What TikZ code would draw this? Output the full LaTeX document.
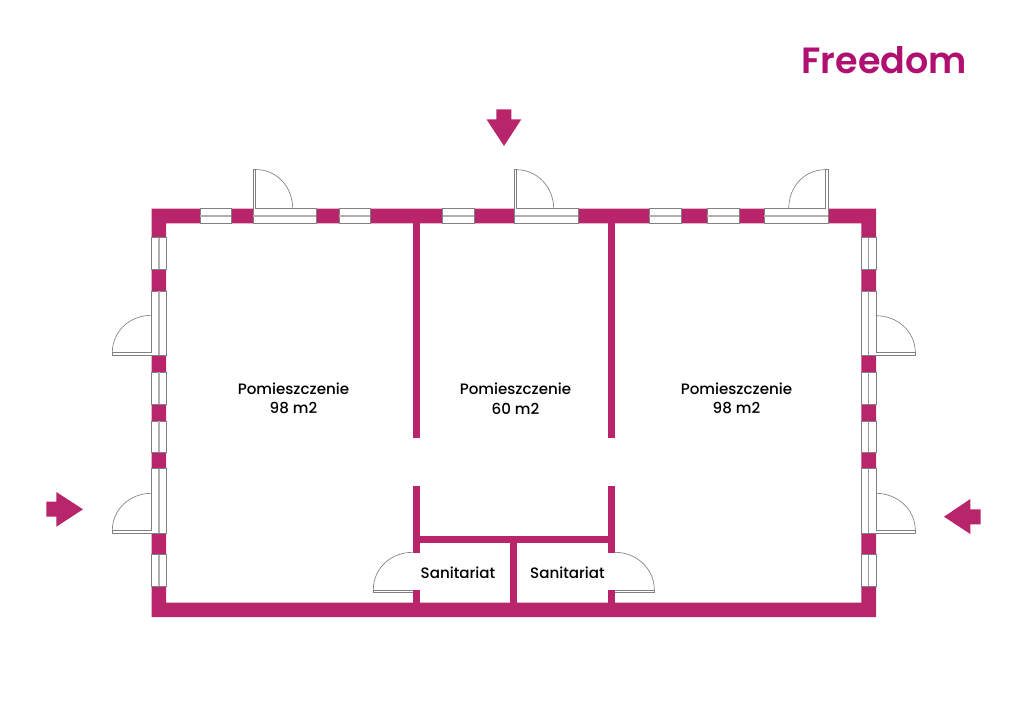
\documentclass[tikz,border=0pt]{standalone}
\usepackage{fontspec}
\newfontfamily\pop{Poppins Medium}
\newfontfamily\popl{Poppins SemiBold}
\definecolor{wallc}{HTML}{B8256B}
\definecolor{logoc}{HTML}{B01070}
\definecolor{edgec}{HTML}{808080}
\definecolor{midc}{HTML}{B0B0B0}
\tikzset{
  wall/.style={fill=wallc,draw=none},
  pane/.style={fill=white,draw=edgec,line width=0.65pt},
  midline/.style={draw=midc,line width=1.6pt},
  thinmid/.style={draw=edgec!80,line width=0.9pt},
  doorline/.style={draw=edgec,line width=0.65pt},
  label/.style={font=\pop\fontsize{15.1}{19.5}\selectfont,align=center,text=black,inner sep=0pt},
}
\begin{document}
\begin{tikzpicture}[x=1pt,y=-1pt]
\useasboundingbox (0,0) rectangle (1024,724);
\fill[white] (0,0) rectangle (1024,724);
% outer wall
\path[wall,even odd rule] (151.5,208.7) rectangle (876,617) (166,223.3) rectangle (861.3,602.7);
% partitions
\path[wall] (412.7,223) rectangle (420,437.5);
\path[wall] (607.7,223) rectangle (615,437.5);
\path[wall] (412.7,486) rectangle (420,552.5);
\path[wall] (607.7,486) rectangle (615,552.5);
\path[wall] (412.7,590) rectangle (420,603);
\path[wall] (607.7,590) rectangle (615,603);
\path[wall] (420,536) rectangle (607.7,543.3);
\path[wall] (510,543) rectangle (517.3,603);
% top windows
\foreach \a/\b in {200/231.3,253/316.7,339/370.5,442.7/474,514.3/578.7,649/681,707/739,764/828}{
  \draw[pane] (\a,208.7) rectangle (\b,223.3);
  \draw[midline] (\a+0.4,216) -- (\b-0.4,216);
}
% side windows
\foreach \a/\b in {237.3/269.7,291/355,372/404,421/452.7,468.7/533,554.3/586}{
  \draw[pane] (151.5,\a) rectangle (166,\b);
  \draw[midline] (158.8,\a+0.4) -- (158.8,\b-0.4);
  \draw[pane] (861.3,\a) rectangle (876,\b);
  \draw[thinmid] (868.6,\a+0.4) -- (868.6,\b-0.4);
}
% top doors
\draw[doorline,fill=white] (253,208.7) -- (253,169.5) -- (255.5,169.5) -- (255.5,208.7);
\draw[doorline] (255.5,169.5) .. controls (277,169.5) and (292.7,187) .. (292.7,208.7);
\draw[doorline,fill=white] (514.3,208.7) -- (514.3,169.7) -- (516.8,169.7) -- (516.8,208.7);
\draw[doorline] (516.8,169.7) .. controls (537,169.7) and (553.7,187) .. (553.7,208.7);
\draw[doorline,fill=white] (828,208.7) -- (828,169.7) -- (825.2,169.7) -- (825.2,208.7);
\draw[doorline] (825.2,169.7) .. controls (804,169.7) and (788.7,187) .. (788.7,208.7);
% left doors
\draw[doorline,fill=white] (151.5,355) -- (112.3,355) -- (112.3,352.7) -- (151.5,352.7);
\draw[doorline] (151.5,315.3) .. controls (130,315.3) and (112.3,331) .. (112.3,352.7);
\draw[doorline,fill=white] (151.5,533) -- (112.3,533) -- (112.3,530.7) -- (151.5,530.7);
\draw[doorline] (151.5,493.3) .. controls (130,493.3) and (112.3,509) .. (112.3,530.7);
% right doors
\draw[doorline,fill=white] (876,355) -- (915.3,355) -- (915.3,352.7) -- (876,352.7);
\draw[doorline] (876,315.7) .. controls (897,315.7) and (915.3,331) .. (915.3,352.7);
\draw[doorline,fill=white] (876,533) -- (915.3,533) -- (915.3,530.7) -- (876,530.7);
\draw[doorline] (876,493.3) .. controls (897,493.3) and (915.3,509) .. (915.3,530.7);
% sanitary doors
\draw[doorline,fill=white] (412.7,592.7) -- (373.3,592.7) -- (373.3,590) -- (412.7,590);
\draw[doorline] (412.7,552.3) .. controls (391,552.3) and (373.3,568) .. (373.3,590);
\draw[doorline,fill=white] (615,592.7) -- (654.3,592.7) -- (654.3,590) -- (615,590);
\draw[doorline] (615,552.3) .. controls (636,552.3) and (654.3,568) .. (654.3,590);
% arrows
\path[wall] (496.3,109.3) -- (511.3,109.3) -- (511.3,119.3) -- (521.3,119.3) -- (504,146) -- (486.5,119.3) -- (496.3,119.3) -- cycle;
\path[wall] (46.3,501.7) -- (56.3,501.7) -- (56.3,492) -- (83,509.3) -- (56.3,526.7) -- (56.3,516.7) -- (46.3,516.7) -- cycle;
\path[wall] (980.7,509.3) -- (970.3,509.3) -- (970.3,499) -- (944,516.7) -- (970.3,534) -- (970.3,524.3) -- (980.7,524.3) -- cycle;
% labels
\node[label] (r1) at (293.5,398.5) {Pomieszczenie\\98 m2};
\node[label] (r2) at (515.5,398.5) {Pomieszczenie\\60 m2};
\node[label] (r3) at (736.5,398.5) {Pomieszczenie\\98 m2};
\node[label] (s1) at (458,573) {Sanitariat};
\node[label] (s2) at (567.5,573) {Sanitariat};
\node[inner sep=0pt,text=logoc,font=\popl\fontsize{36.5}{36}\selectfont] (logo) at (884.3,60) {Freedom};
\end{tikzpicture}
\end{document}
